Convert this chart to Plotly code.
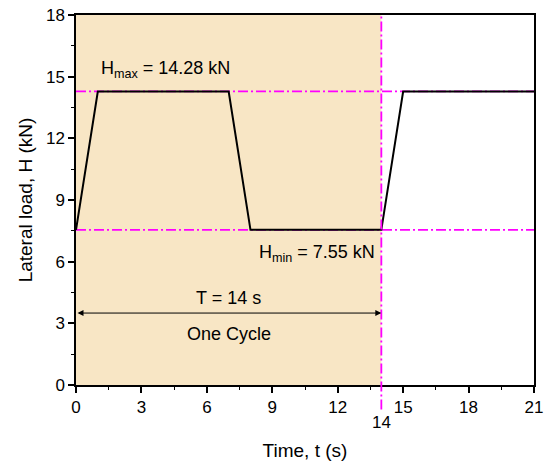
import plotly.graph_objects as go

# Data
time_s = [0, 1, 7, 8, 14, 15, 21]
load_kN = [7.55, 14.28, 14.28, 7.55, 7.55, 14.28, 14.28]
H_max = 14.28
H_min = 7.55
T_cycle = 14
x_ticks = [0, 3, 6, 9, 12, 15, 18, 21]
y_ticks = [0, 3, 6, 9, 12, 15, 18]
x_range = [0, 21]
y_range = [0, 18]

FONT = "Liberation Sans, Arial, sans-serif"
MAG = "#FF00FF"
DASH = "10px,3px,2px,3px"

fig = go.Figure()
fig.add_trace(go.Scatter(x=time_s, y=load_kN, mode="lines",
                         line=dict(color="black", width=2), showlegend=False))

# shaded one-cycle region
fig.add_shape(type="rect", xref="x", yref="y", x0=0, x1=T_cycle, y0=y_range[0], y1=y_range[1],
              fillcolor="#F8E6C5", line=dict(width=0), layer="below")
# H max / min lines
for h in (H_max, H_min):
    fig.add_shape(type="line", xref="x", yref="y", x0=x_range[0], x1=x_range[1], y0=h, y1=h,
                  line=dict(color=MAG, width=1.8, dash=DASH), layer="below")
# vertical line at T extending below axis
fig.add_shape(type="line", xref="paper", yref="paper",
              x0=T_cycle / x_range[1], x1=T_cycle / x_range[1], y0=-0.066, y1=1,
              line=dict(color=MAG, width=1.8, dash=DASH), layer="above")

# arrow for T
fig.add_annotation(x=T_cycle, y=3.5, ax=0, ay=3.5, xref="x", yref="y", axref="x", ayref="y",
                   text="", showarrow=True, arrowhead=2, arrowside="end+start",
                   arrowsize=1.2, arrowwidth=1, arrowcolor="black", standoff=0, startstandoff=0)
fig.add_annotation(x=T_cycle / 2, y=4.25, xref="x", yref="y", text="T = 14 s", showarrow=False,
                   font=dict(family=FONT, size=18, color="black"))
fig.add_annotation(x=T_cycle / 2, y=2.5, xref="x", yref="y", text="One Cycle", showarrow=False,
                   font=dict(family=FONT, size=18, color="black"))
fig.add_annotation(x=4.1, y=15.35, xref="x", yref="y",
                   text="H<sub>max</sub> = 14.28 kN", showarrow=False,
                   font=dict(family=FONT, size=18, color="black"))
fig.add_annotation(x=11.05, y=6.4, xref="x", yref="y",
                   text="H<sub>min</sub> = 7.55 kN", showarrow=False,
                   font=dict(family=FONT, size=18, color="black"))
# extra tick label 14
fig.add_annotation(x=T_cycle, y=-0.1, xref="x", yref="paper", text="14", showarrow=False,
                   font=dict(family=FONT, size=17, color="black"), yanchor="middle")

axis_common = dict(showgrid=False, zeroline=False, showline=True, linecolor="black", linewidth=1.5,
                   mirror=True, ticks="outside", ticklen=6, tickwidth=1.5, tickcolor="black",
                   automargin=False,
                   tickfont=dict(family=FONT, size=17, color="black"))
fig.update_xaxes(range=x_range, tickvals=x_ticks, **axis_common,
                 minor=dict(ticks="outside", ticklen=3, tickwidth=1.2, tickcolor="black", dtick=1.5, tick0=0),
                 title=dict(text="Time, t (s)", font=dict(family=FONT, size=19, color="black"), standoff=38))
fig.update_yaxes(range=y_range, tickvals=y_ticks, **axis_common,
                 minor=dict(ticks="outside", ticklen=3, tickwidth=1.2, tickcolor="black", dtick=1.5, tick0=0),
                 title=dict(text="Lateral load, H (kN)", font=dict(family=FONT, size=19, color="black"), standoff=8))

fig.update_layout(width=547, height=461, margin=dict(l=76, r=13, t=15, b=76),
                  plot_bgcolor="white", paper_bgcolor="white", showlegend=False)

fig.write_html("out.html")
